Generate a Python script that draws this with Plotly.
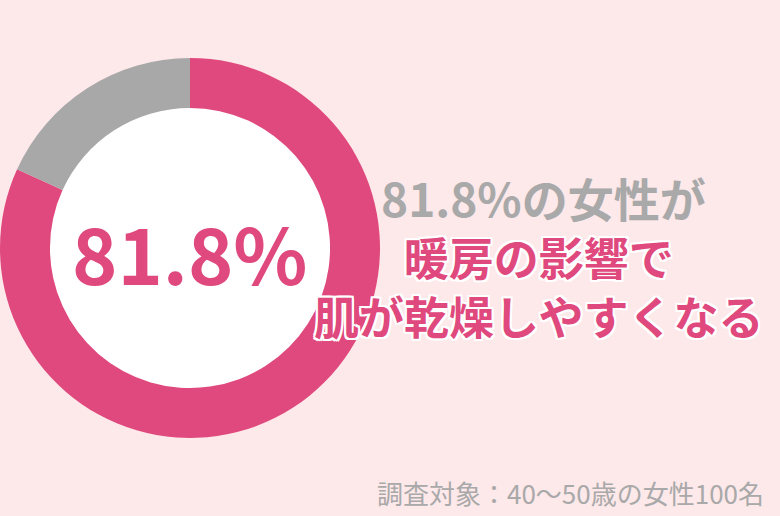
import plotly.graph_objects as go

labels = ["乾燥しやすくなる", "その他"]
values = [81.8, 18.2]
colors = ["#e0497d", "#a8a8a8"]

center_label = "81.8%"
lead_line = "81.8%の女性が"
main_lines = ["暖房の影響で", "肌が乾燥しやすくなる"]
note = "調査対象：40〜50歳の女性100名"

W, H = 780, 516
BG = "#fde8ea"
PINK = "#e0497d"
GRAY = "#a9a9a9"
FONT = "Noto Sans CJK JP"
OUTLINE = "2px 0 0 white, -2px 0 0 white, 0 2px 0 white, 0 -2px 0 white, 2px 2px 0 white, -2px -2px 0 white, 2px -2px 0 white, -2px 2px 0 white"

fig = go.Figure(go.Pie(
    labels=labels, values=values, sort=False, direction="clockwise", rotation=0,
    hole=0.737, marker=dict(colors=colors, line=dict(width=0)),
    textinfo="none", hoverinfo="label+percent", showlegend=False,
    domain=dict(x=[0, 380 / W], y=[(H - 438) / H, (H - 58) / H]),
))

# white disc in the middle of the ring
fig.add_shape(type="circle", xref="paper", yref="paper", layer="below",
              x0=46 / W, x1=334 / W, y0=(H - 392) / H, y1=(H - 104) / H,
              fillcolor="white", line=dict(width=0))


def label(x, y, text, size, color, shadow="none", anchor="center"):
    fig.add_annotation(x=x / W, y=1 - y / H, xref="paper", yref="paper", showarrow=False,
                       xanchor=anchor, yanchor="middle", text=text,
                       font=dict(family=FONT, size=size, color=color, shadow=shadow))


label(189, 251, "<b>%s</b>" % center_label, 77, PINK)
label(543, 197, "<b>%s</b>" % lead_line, 46, GRAY)
label(539, 286, "<b>%s</b>" % "<br>".join(main_lines), 45, PINK, OUTLINE)
label(766, 492, note, 26, GRAY, anchor="right")

fig.update_layout(width=W, height=H, margin=dict(l=0, r=0, t=0, b=0),
                  paper_bgcolor=BG, plot_bgcolor=BG)

fig.write_html("out.html", config={"displayModeBar": False},
               post_script="document.body.style.margin='0';")
